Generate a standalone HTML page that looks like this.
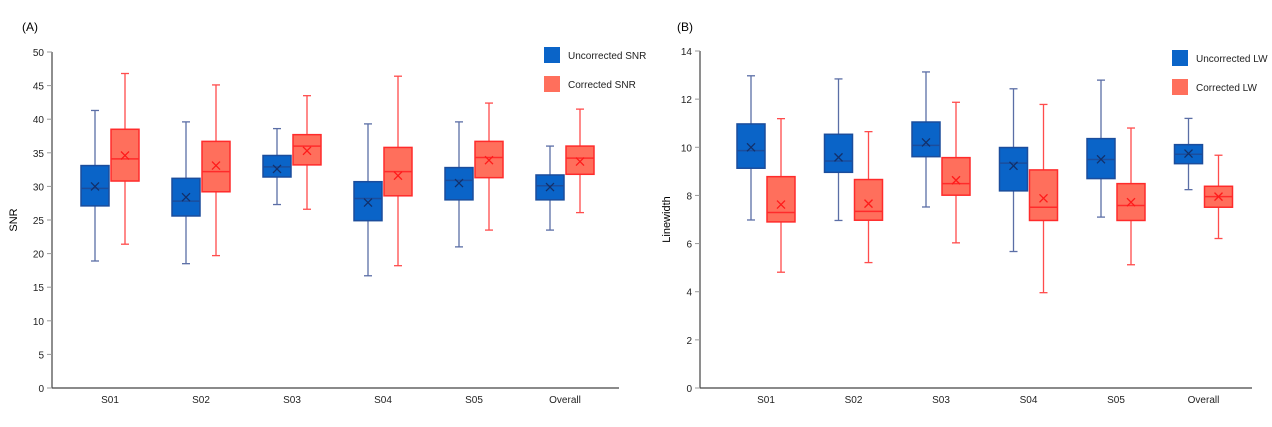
<!DOCTYPE html>
<html><head><meta charset="utf-8"><style>
body{margin:0;background:#fff;}
svg{display:block;font-family:"Liberation Sans",sans-serif;}
</style></head><body>
<svg id="c" width="1272" height="427"></svg>
<script>
const categories=["S01","S02","S03","S04","S05","Overall"];
// SNR: [min,q1,median,q3,max,mean]
const snrUncorrected=[[18.9,27.1,29.7,33.1,41.3,30.0],[18.5,25.6,27.8,31.2,39.6,28.4],[27.3,31.4,32.9,34.6,38.6,32.6],[16.7,24.9,28.2,30.7,39.3,27.6],[21.0,28.0,30.9,32.8,39.6,30.5],[23.5,28.0,30.1,31.7,36.0,29.9]];
const snrCorrected=[[21.4,30.8,34.1,38.5,46.8,34.6],[19.7,29.2,32.2,36.7,45.1,33.1],[26.6,33.2,36.0,37.7,43.5,35.3],[18.2,28.6,32.2,35.8,46.4,31.6],[23.5,31.3,34.3,36.7,42.4,33.9],[26.1,31.8,34.2,36.0,41.5,33.7]];
const lwUncorrected=[[6.98,9.13,9.86,10.97,12.97,10.0],[6.96,8.96,9.43,10.54,12.84,9.58],[7.52,9.61,10.08,11.05,13.13,10.2],[5.67,8.19,9.34,9.99,12.43,9.23],[7.10,8.70,9.49,10.36,12.79,9.50],[8.24,9.32,9.71,10.11,11.2,9.74]];
const lwCorrected=[[4.81,6.90,7.29,8.78,11.19,7.62],[5.21,6.97,7.34,8.66,10.65,7.66],[6.03,8.01,8.49,9.57,11.87,8.63],[3.96,6.96,7.51,9.06,11.78,7.88],[5.12,6.96,7.58,8.49,10.80,7.72],[6.21,7.51,7.95,8.38,9.67,7.95]];
const snrTicks=[0,5,10,15,20,25,30,35,40,45,50];
const lwTicks=[0,2,4,6,8,10,12,14];

const NS="http://www.w3.org/2000/svg";
const svg=document.getElementById('c');
function mk(tag,attrs,parent,text){const e=document.createElementNS(NS,tag);for(const k in attrs)e.setAttribute(k,attrs[k]);if(text!==undefined)e.textContent=text;(parent||svg).appendChild(e);return e;}

function panel(p){
  const g=mk('g',{});
  
  
  const y=v=>p.y0+(p.y1-p.y0)*(v-p.vmin)/(p.vmax-p.vmin);
  const gx=i=>p.gx0+i*p.gstep;
  let t=mk('text',{x:p.tx,y:31,'font-size':12,fill:'#000'},g,p.title);
  
  
  let a=mk('line',{x1:p.ax,y1:y(p.vmax),x2:p.ax,y2:y(0),stroke:'#444','stroke-width':1.2},g);
  
  
  a=mk('line',{x1:p.ax,y1:y(0),x2:p.axEnd,y2:y(0),stroke:'#444','stroke-width':1.2},g);
  
  
  p.ticks.forEach(v=>{
    let l=mk('line',{x1:p.ax-5,y1:y(v),x2:p.ax,y2:y(v),stroke:'#999'},g);
    
    
    let tt=mk('text',{x:p.ax-8,y:y(v)+4,'font-size':10,'text-anchor':'end',fill:'#222'},g,String(v));
    
    
  });
  let yl=mk('text',{x:0,y:0,'font-size':11,'text-anchor':'middle',transform:`translate(${p.ylx},${(y(p.vmax)+y(0))/2}) rotate(-90)`,fill:'#000'},g,p.ylabel);
  
  
  categories.forEach((c,i)=>{
    let tt=mk('text',{x:gx(i),y:y(0)+15,'font-size':10,'text-anchor':'middle',fill:'#222'},g,c);
    
    
  });
  const series=[{d:p.s1,off:-15,fill:'#0a64c8',stroke:'#1b4d9c',wh:'#5b6ea6',mk:'#12306a'},{d:p.s2,off:15,fill:'#ff6f5c',stroke:'#ff2b2b',wh:'#ff4c4c',mk:'#ff1a1a'}];
  series.forEach((s,si)=>{
    s.d.forEach((b,i)=>{
      const cx=gx(i)+s.off,w=28;
      const bg=mk('g',{},g);
      
      
      mk('line',{x1:cx,y1:y(b[4]),x2:cx,y2:y(b[3]),stroke:s.wh,'stroke-width':1.3},bg);
      mk('line',{x1:cx,y1:y(b[1]),x2:cx,y2:y(b[0]),stroke:s.wh,'stroke-width':1.3},bg);
      mk('line',{x1:cx-4,y1:y(b[4]),x2:cx+4,y2:y(b[4]),stroke:s.wh,'stroke-width':1.3},bg);
      mk('line',{x1:cx-4,y1:y(b[0]),x2:cx+4,y2:y(b[0]),stroke:s.wh,'stroke-width':1.3},bg);
      mk('rect',{x:cx-w/2,y:y(b[3]),width:w,height:y(b[1])-y(b[3]),fill:s.fill,stroke:s.stroke,'stroke-width':1.5},bg);
      mk('line',{x1:cx-w/2,y1:y(b[2]),x2:cx+w/2,y2:y(b[2]),stroke:s.stroke,'stroke-width':1.5},bg);
      const my=y(b[5]);
      mk('path',{d:`M${cx-4},${my-4}L${cx+4},${my+4}M${cx+4},${my-4}L${cx-4},${my+4}`,stroke:s.mk,'stroke-width':1.3},bg);
    });
  });
  [[p.l1,'#0a64c8'],[p.l2,'#ff6f5c']].forEach((L,k)=>{
    const lg=mk('g',{},g);
    
    
    mk('rect',{x:p.lgx,y:p.lgy+k*29,width:16,height:16,fill:L[1]},lg);
    mk('text',{x:p.lgx+24,y:p.lgy+k*29+12,'font-size':10,fill:'#222'},lg,L[0]);
  });
}
panel({id:'snr-panel',title:'(A)',tx:22,ax:52,axEnd:619,y0:388,y1:52,vmin:0,vmax:50,gx0:110,gstep:91,ticks:snrTicks,ylabel:'SNR',ylx:17,s1:snrUncorrected,s2:snrCorrected,l1:'Uncorrected SNR',l2:'Corrected SNR',lgx:544,lgy:47});
panel({id:'linewidth-panel',title:'(B)',tx:677,ax:700,axEnd:1252,y0:388,y1:51,vmin:0,vmax:14,gx0:766,gstep:87.5,ticks:lwTicks,ylabel:'Linewidth',ylx:670,s1:lwUncorrected,s2:lwCorrected,l1:'Uncorrected LW',l2:'Corrected LW',lgx:1172,lgy:50});
</script>
</body></html>
